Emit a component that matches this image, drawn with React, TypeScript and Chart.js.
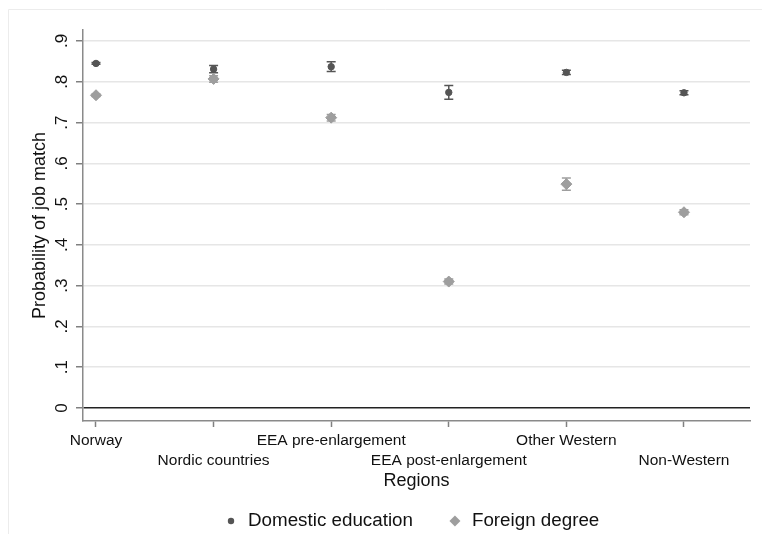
import React, { useEffect, useRef } from "react";
import { Chart, registerables } from "chart.js";

Chart.register(...registerables);

const categories = [
  "Norway",
  "Nordic countries",
  "EEA pre-enlargement",
  "EEA post-enlargement",
  "Other Western",
  "Non-Western",
];
const domestic = [0.845, 0.831, 0.837, 0.774, 0.823, 0.773];
const domesticErr = [0.002, 0.009, 0.012, 0.017, 0.005, 0.005];
const foreign = [0.767, 0.807, 0.712, 0.31, 0.549, 0.48];
const foreignErr = [0.003, 0.008, 0.008, 0.006, 0.015, 0.006];
const yTickValues = [0, 0.1, 0.2, 0.3, 0.4, 0.5, 0.6, 0.7, 0.8, 0.9];
const yTickLabels = ["0", ".1", ".2", ".3", ".4", ".5", ".6", ".7", ".8", ".9"];
const seriesLabels = ["Domestic education", "Foreign degree"];

const FONT = "'Liberation Sans', Arial, Helvetica, sans-serif";
const DOM_COLOR = "#555555";
const FOR_COLOR = "#9e9e9e";

export default function App() {
  const ref = useRef<HTMLCanvasElement>(null);

  useEffect(() => {
    document.body.style.margin = "0";
    const canvas = ref.current;
    if (!canvas) return;

    const framePlugin = {
      id: "frame",
      beforeDraw(chart: any) {
        const ctx = chart.ctx;
        ctx.save();
        ctx.fillStyle = "#ffffff";
        ctx.fillRect(0, 0, chart.width, chart.height);
        ctx.strokeStyle = "#ececec";
        ctx.lineWidth = 1;
        ctx.beginPath();
        ctx.moveTo(8.5, chart.height);
        ctx.lineTo(8.5, 9.5);
        ctx.lineTo(chart.width, 9.5);
        ctx.stroke();
        ctx.restore();
      },
    };

    const errPlugin = {
      id: "errbars",
      beforeDatasetsDraw(chart: any) {
        const ctx = chart.ctx;
        const xs = chart.scales.x;
        const ys = chart.scales.y;
        chart.data.datasets.forEach((ds: any) => {
          ctx.save();
          ctx.strokeStyle = ds.borderColor;
          ctx.lineWidth = 1.5;
          ds.data.forEach((p: any, i: number) => {
            const e = ds.errors[i];
            const px = xs.getPixelForValue(p.x);
            const top = ys.getPixelForValue(p.y + e);
            const bot = ys.getPixelForValue(p.y - e);
            ctx.beginPath();
            ctx.moveTo(px, top);
            ctx.lineTo(px, bot);
            ctx.moveTo(px - 4.5, top);
            ctx.lineTo(px + 4.5, top);
            ctx.moveTo(px - 4.5, bot);
            ctx.lineTo(px + 4.5, bot);
            ctx.stroke();
          });
          ctx.restore();
        });
      },
    };

    const yLabelPlugin = {
      id: "ylabels",
      afterDraw(chart: any) {
        const ctx = chart.ctx;
        const ys = chart.scales.y;
        ctx.save();
        ctx.fillStyle = "#111111";
        ctx.font = `17px ${FONT}`;
        ctx.textAlign = "center";
        ctx.textBaseline = "middle";
        ys.ticks.forEach((t: any, i: number) => {
          const py = ys.getPixelForValue(t.value);
          ctx.save();
          ctx.translate(62, py);
          ctx.rotate(-Math.PI / 2);
          ctx.fillText(yTickLabels[i], 0, 0);
          ctx.restore();
        });
        ctx.restore();
      },
    };

    const legendPlugin = {
      id: "customLegend",
      afterDraw(chart: any) {
        const ctx = chart.ctx;
        ctx.save();
        ctx.font = `18.8px ${FONT}`;
        ctx.textBaseline = "middle";
        ctx.textAlign = "left";
        const y = 521;
        let cx = 231;
        chart.data.datasets.forEach((d: any) => {
          ctx.fillStyle = d.backgroundColor;
          ctx.beginPath();
          if (d.pointStyle === "rectRot") {
            const r = 5.5;
            ctx.moveTo(cx, y - r);
            ctx.lineTo(cx + r, y);
            ctx.lineTo(cx, y + r);
            ctx.lineTo(cx - r, y);
            ctx.closePath();
          } else {
            ctx.arc(cx, y, 3.2, 0, Math.PI * 2);
          }
          ctx.fill();
          ctx.fillStyle = "#111111";
          const tx = cx + 17;
          ctx.fillText(d.label, tx, y);
          cx = tx + ctx.measureText(d.label).width + 42;
        });
        ctx.restore();
      },
    };

    const chart = new Chart(canvas, {
      type: "scatter",
      data: {
        datasets: [
          {
            label: seriesLabels[0],
            data: domestic.map((v, i) => ({ x: i, y: v })),
            errors: domesticErr,
            pointStyle: "circle",
            pointRadius: 3.2,
            backgroundColor: DOM_COLOR,
            borderColor: DOM_COLOR,
            borderWidth: 1,
          } as any,
          {
            label: seriesLabels[1],
            data: foreign.map((v, i) => ({ x: i, y: v })),
            errors: foreignErr,
            pointStyle: "rectRot",
            pointRadius: 5.5,
            backgroundColor: FOR_COLOR,
            borderColor: FOR_COLOR,
            borderWidth: 1,
          } as any,
        ],
      },
      options: {
        animation: false,
        responsive: false,
        layout: { padding: { left: 0, right: 12, top: 30, bottom: 0 } },
        plugins: {
          legend: { display: false },
          tooltip: { enabled: false },
        },
        scales: {
          x: {
            type: "linear",
            min: -0.1105,
            max: 5.5615,
            afterBuildTicks: (s: any) => {
              s.ticks = categories.map((_, i) => ({ value: i }));
            },
            afterFit: (s: any) => {
              s.height = 113;
            },
            ticks: {
              autoSkip: false,
              maxRotation: 0,
              minRotation: 0,
              padding: 4,
              color: "#111111",
              font: { family: FONT, size: 15.5, lineHeight: 1.29 },
              callback: (_v: any, i: number) =>
                i % 2 === 0 ? categories[i] : ["", categories[i]],
            },
            grid: {
              drawOnChartArea: false,
              drawTicks: true,
              tickLength: 6,
              tickColor: "#808080",
              tickWidth: 1.5,
            },
            border: { display: true, color: "#8a8a8a", width: 1.5 },
            title: {
              display: true,
              text: "Regions",
              color: "#111111",
              font: { family: FONT, size: 18 },
              padding: { top: 0, bottom: 42 },
            },
          },
          y: {
            type: "linear",
            min: -0.032,
            max: 0.927,
            afterBuildTicks: (s: any) => {
              s.ticks = yTickValues.map((v) => ({ value: v }));
            },
            afterFit: (s: any) => {
              s.width = 83;
            },
            ticks: { display: false },
            grid: {
              color: (c: any) => (c.tick && c.tick.value === 0 ? "#222222" : "#e6e6e6"),
              lineWidth: 1.5,
              tickColor: "#808080",
              tickLength: 7,
              tickWidth: 1.5,
            },
            border: { display: true, color: "#8a8a8a", width: 1.5 },
            title: {
              display: true,
              text: "Probability of job match",
              color: "#111111",
              font: { family: FONT, size: 18 },
              padding: { top: 29, bottom: 0 },
            },
          },
        },
      } as any,
      plugins: [framePlugin, errPlugin, yLabelPlugin, legendPlugin],
    });

    return () => chart.destroy();
  }, []);

  return (
    <div style={{ width: 762, height: 534 }}>
      <canvas ref={ref} width={762} height={534} style={{ width: 762, height: 534, display: "block" }} />
    </div>
  );
}
